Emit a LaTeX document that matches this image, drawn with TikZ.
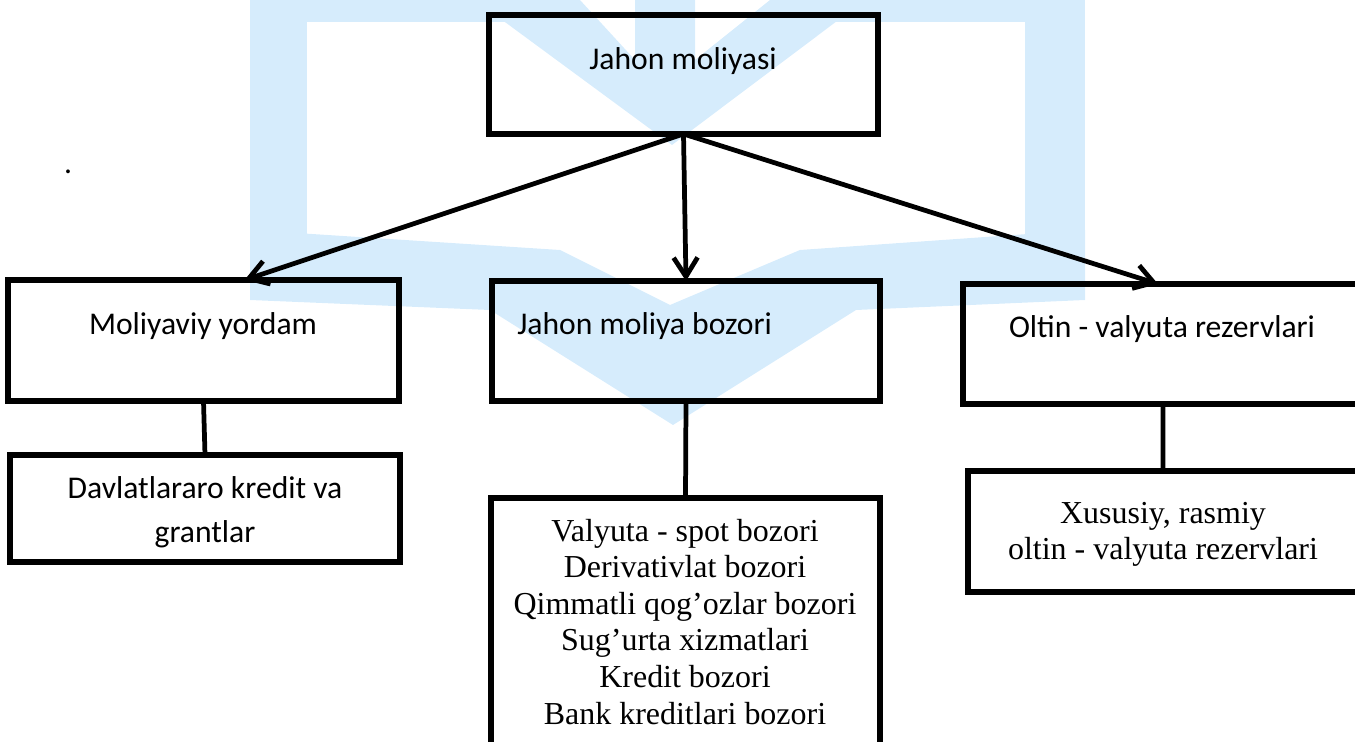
\documentclass[tikz,border=0pt]{standalone}
\usepackage{fontspec}
\setmainfont{Liberation Serif}
\newfontfamily\calibri{Carlito}
\usetikzlibrary{arrows.meta}
\definecolor{wmblue}{RGB}{214,236,252}

\begin{document}
\begin{tikzpicture}[x=0.02cm, y=-0.02cm,
		box/.style={rectangle, draw=black, line width=3pt, inner sep=0pt, outer sep=0pt},
		sans/.style={font=\calibri\fontsize{18}{25.5}\selectfont, inner sep=0pt, anchor=base, align=center},
		serif/.style={font=\fontsize{18.2}{20.8}\selectfont, inner sep=0pt, anchor=base, align=center},
		link/.style={draw=black, line width=2.7pt},
		tip/.style={-{Straight Barb[length=0.38cm, width=0.48cm]}}]
			\clip (0,0) rectangle (1355,742);
			
			% faint watermark behind the scheme
			\fill[wmblue] (250,0) rectangle (307,300);
			\fill[wmblue] (1025,0) rectangle (1085,300);
			\fill[wmblue] (250,0) rectangle (580,22);
			\fill[wmblue] (770,0) rectangle (1085,22);
			\fill[wmblue] (475,0) -- (580,0) -- (635,60) -- (635,0) -- (695,0) -- (695,60) -- (770,0) -- (865,0) -- (672,145) -- cycle;
			\fill[wmblue] (250,230) -- (560,250) -- (670,305) -- (800,250) -- (1085,230) -- (1085,300) -- (856,310) -- (673,425) -- (490,310) -- (250,300) -- cycle;
			
			\node[box, minimum width=7.78cm, minimum height=2.38cm] (jm) at (683.5,74.5){};
			\node[box, minimum width=7.82cm, minimum height=2.42cm] (my) at (203.5,340.5){};
			\node[box, minimum width=7.76cm, minimum height=2.40cm] (jmb) at (686,341){};
			\node[box, minimum width=8.24cm, minimum height=2.40cm] (ovr) at (1169,344){};
			\node[box, minimum width=7.80cm, minimum height=2.14cm] (dk) at (205,508.5){};
			\node[box, minimum width=7.78cm, minimum height=5.64cm] (bozor) at (685.5,639){};
			\node[box, minimum width=8.14cm, minimum height=2.42cm] (xus) at (1171.5,531.5){};
			
			\node[sans] (dot) at (68,174){.};
			\node[sans] (jmtext) at (683,70){Jahon moliyasi};
			\node[sans] (mytext) at (203,335){Moliyaviy yordam};
			\node[sans, anchor=base west] (jmbtext) at (517,335){Jahon moliya bozori};
			\node[sans] (ovrtext) at (1162,338){Oltin - valyuta rezervlari};
			% base of a two-line node is its last line
			\node[sans] (dktext) at (205,543){Davlatlararo kredit va\\grantlar};
			\node[serif] (bozortext) at (685,724){Valyuta - spot bozori\\Derivativlat bozori\\Qimmatli qog’ozlar bozori\\Sug’urta xizmatlari\\Kredit bozori\\Bank kreditlari bozori};
			\node[serif] (xustext) at (1163,560){Xususiy, rasmiy\\oltin - valyuta rezervlari};
			
			\path[link] (jm.south) edge[tip] ([xshift=0.82cm]my.north);
			\path[link] (jm.south) edge[tip] (jmb.north);
			\path[link] (jm.south) edge[tip] ([xshift=-0.22cm]ovr.north);
			\path[link] (my.south) edge (dk.north);
			\path[link] (jmb.south) edge (bozor.north);
			\path[link] ([xshift=-0.12cm]ovr.south) edge ([xshift=-0.17cm]xus.north);
\end{tikzpicture}
\end{document}
